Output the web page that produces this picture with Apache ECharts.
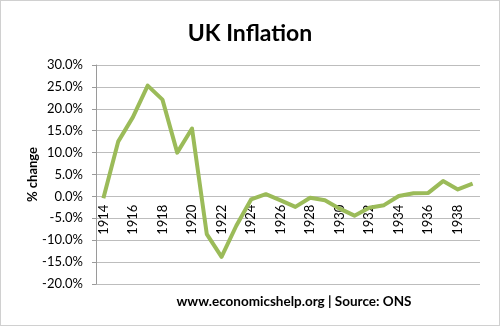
<!DOCTYPE html>
<html>
<head>
<meta charset="utf-8">
<script src="https://cdn.jsdelivr.net/npm/echarts@6/dist/echarts.min.js"></script>
<style>
  html, body { margin: 0; padding: 0; background: #fff; }
  #chart { width: 500px; height: 326px; box-sizing: border-box; border: 1px solid #d0d0d0; }
</style>
</head>
<body>
<div id="chart"></div>
<script>
const years = ['1914', '1915', '1916', '1917', '1918', '1919', '1920', '1921', '1922', '1923',
  '1924', '1925', '1926', '1927', '1928', '1929', '1930', '1931', '1932', '1933',
  '1934', '1935', '1936', '1937', '1938', '1939'];
const inflation = [-0.4, 12.5, 18.1, 25.3, 22.1, 10.0, 15.5, -8.6, -13.8, -6.7,
  -0.7, 0.5, -0.9, -2.4, -0.3, -0.9, -2.8, -4.4, -2.6, -2.0,
  0.1, 0.7, 0.8, 3.5, 1.6, 2.9];

const FONT = 'Lato, "Open Sans", sans-serif';
const Y_MIN = -20, Y_MAX = 30;
const GRID = { left: 95, right: 19, top: 64, bottom: 41 };
// x axis sits on the zero line: shift it up from the bottom of the grid
const plotH = 326 - GRID.top - GRID.bottom;
const zeroOffset = -plotH * (0 - Y_MIN) / (Y_MAX - Y_MIN);

const chart = echarts.init(document.getElementById('chart'));

chart.setOption({
  animation: false,
  backgroundColor: '#fff',
  title: [
    {
      text: 'UK Inflation',
      left: 'center',
      top: 16,
      textStyle: { color: '#000', fontSize: 23, fontWeight: 'bold', fontFamily: FONT }
    },
    {
      text: 'www.economicshelp.org | Source: ONS',
      left: 288,
      textAlign: 'center',
      top: 289,
      textStyle: { color: '#000', fontSize: 13.5, fontWeight: 'bold', fontFamily: FONT }
    }
  ],
  grid: GRID,
  xAxis: {
    type: 'category',
    data: years,
    boundaryGap: true,
    offset: zeroOffset,
    z: 3, // year labels drawn over the line, like the original
    axisLine: { show: false, onZero: false },
    axisTick: { show: false },
    axisLabel: {
      interval: 1,
      rotate: 90,
      color: '#000',
      fontSize: 13,
      fontFamily: FONT,
      margin: 9
    }
  },
  yAxis: {
    type: 'value',
    min: Y_MIN,
    max: Y_MAX,
    interval: 5,
    name: '% change',
    nameLocation: 'middle',
    nameGap: 57,
    nameMoveOverlap: false,
    nameTextStyle: { color: '#000', fontSize: 13, fontWeight: 'bold', fontFamily: FONT },
    axisLine: { show: true, lineStyle: { color: '#9a9a9a' } },
    axisTick: { show: true, inside: false, length: 4, lineStyle: { color: '#9a9a9a' } },
    axisLabel: {
      color: '#000',
      fontSize: 13,
      fontFamily: FONT,
      margin: 13,
      formatter: v => v.toFixed(1) + '%'
    },
    splitLine: { lineStyle: { color: '#bdbdbd', width: 1 } }
  },
  series: [{
    type: 'line',
    data: inflation,
    symbol: 'none',
    lineStyle: { color: '#9bbb59', width: 4, join: 'round' },
    itemStyle: { color: '#9bbb59' }
  }]
});
</script>
</body>
</html>
